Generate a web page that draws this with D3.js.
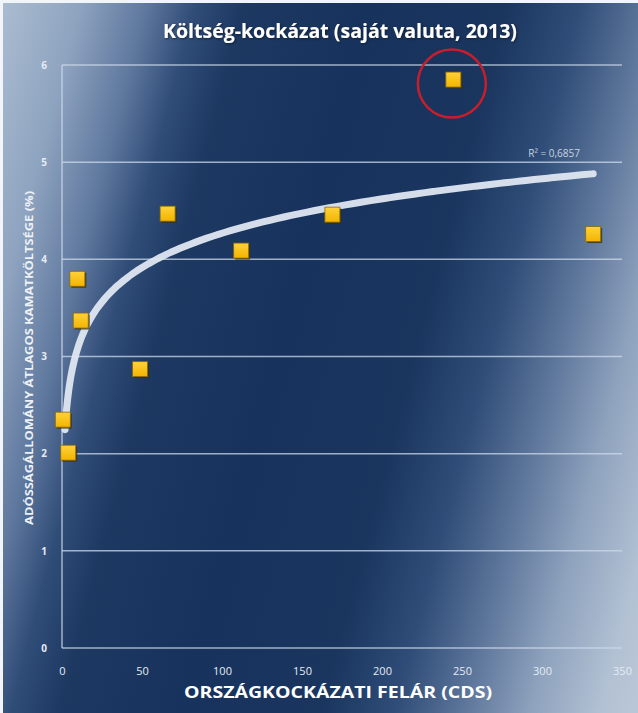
<!DOCTYPE html>
<html>
<head>
<meta charset="utf-8">
<script src="https://cdn.jsdelivr.net/npm/d3@7"></script>
<style>
  html, body { margin: 0; padding: 0; background: #fff; }
  svg { display: block; }
</style>
</head>
<body>
<div id="chart"></div>
<script>
// values
const cdsSpread = [0.5, 3.9, 9.6, 11.7, 48.8, 66, 112, 169, 244.6, 332];
const interestCost = [2.35, 2.01, 3.80, 3.37, 2.87, 4.47, 4.09, 4.46, 5.85, 4.26];
const xTicks = [0, 50, 100, 150, 200, 250, 300, 350];
const yTicks = [0, 1, 2, 3, 4, 5, 6];
// logarithmic trendline y = a*ln(x) + b, as drawn
const trendA = 0.51;
const trendB = 1.92;
const trendStart = 1.9;
const trendLabel = 'R² = 0,6857';
const highlighted = [8];

const W = 638, H = 713;
const svg = d3.select('#chart').append('svg')
  .attr('width', W)
  .attr('height', H);

const defs = svg.append('defs');
const bg = defs.append('linearGradient')
  .attr('id', 'bg')
  .attr('gradientUnits', 'userSpaceOnUse')
  .attr('x1', 0).attr('y1', 0).attr('x2', 766).attr('y2', 200);
[[0, '#abbdd1'], [0.1, '#8ea3bf'], [0.18, '#5f789e'], [0.24, '#304d78'], [0.3, '#1d3962'],
 [0.45, '#17335d'], [0.62, '#1a365f'], [0.71, '#2f4d78'], [0.79, '#5b7499'],
 [0.875, '#8ea2bd'], [0.96, '#b2c1d3'], [1, '#b9c6d6']]
  .forEach(s => bg.append('stop').attr('offset', s[0]).attr('stop-color', s[1]));

const mk = defs.append('linearGradient')
  .attr('id', 'mk')
  .attr('x1', 0).attr('y1', 0).attr('x2', 0).attr('y2', 1);
mk.append('stop').attr('offset', 0).attr('stop-color', '#ffd23a');
mk.append('stop').attr('offset', 1).attr('stop-color', '#f2b400');

const glow = defs.append('filter').attr('id', 'glow')
  .attr('x', '-10%').attr('y', '-30%').attr('width', '120%').attr('height', '160%');
glow.append('feDropShadow')
  .attr('dx', 1).attr('dy', 1).attr('stdDeviation', 1.2)
  .attr('flood-color', '#0a1a33').attr('flood-opacity', 0.8);

svg.append('rect')
  .attr('width', W).attr('height', H)
  .attr('fill', 'url(#bg)');

// light frame at top/left edge like the slide capture
svg.append('rect')
  .attr('x', 0).attr('y', 0).attr('width', W).attr('height', 3)
  .attr('fill', '#f2f5f9');
svg.append('rect')
  .attr('x', 0).attr('y', 0).attr('width', 3).attr('height', H)
  .attr('fill', '#f2f5f9');

const x = d3.scaleLinear().domain([0, 350]).range([62, 622]);
const y = d3.scaleLinear().domain([0, 6]).range([648, 65]);

const gridColor = 'rgba(205,218,235,0.75)';

// horizontal gridlines
svg.append('g')
  .selectAll('line')
  .data(yTicks.filter(d => d > 0))
  .join('line')
  .attr('x1', x(0)).attr('x2', x(350))
  .attr('y1', d => y(d)).attr('y2', d => y(d))
  .attr('stroke', gridColor)
  .attr('stroke-width', 1.5);

// axis lines
svg.append('line')
  .attr('x1', x(0)).attr('x2', x(0))
  .attr('y1', y(0)).attr('y2', y(6))
  .attr('stroke', gridColor).attr('stroke-width', 1.5);
svg.append('line')
  .attr('x1', x(0)).attr('x2', x(350))
  .attr('y1', y(0)).attr('y2', y(0))
  .attr('stroke', gridColor).attr('stroke-width', 1.5);

const tickFont = '"Open Sans", "DejaVu Sans", sans-serif';

const yAxis = d3.axisLeft(y).tickValues(yTicks).tickFormat(d3.format('d'))
  .tickSize(0).tickPadding(18);
const gy = svg.append('g')
  .attr('transform', `translate(${x(0)},0)`)
  .call(yAxis);
gy.select('.domain').remove();
gy.selectAll('text')
  .attr('text-anchor', 'middle')
  .attr('fill', '#e4ebf4')
  .attr('font-family', tickFont)
  .attr('font-weight', 'bold')
  .attr('font-size', 10);

const xAxis = d3.axisBottom(x).tickValues(xTicks).tickSize(0).tickPadding(19);
const gx = svg.append('g')
  .attr('transform', `translate(0,${y(0)})`)
  .call(xAxis);
gx.select('.domain').remove();
gx.selectAll('text')
  .attr('fill', '#e4ebf4')
  .attr('font-family', tickFont)
  .attr('font-size', 11);

// trendline
const xMax = d3.max(cdsSpread);
const trendPts = d3.range(0, 101).map(i => {
  const xv = trendStart + (xMax - trendStart) * Math.pow(i / 100, 2.2);
  return [xv, trendA * Math.log(xv) + trendB];
});
svg.append('path')
  .datum(trendPts)
  .attr('d', d3.line().x(d => x(d[0])).y(d => y(d[1])).curve(d3.curveMonotoneX))
  .attr('fill', 'none')
  .attr('stroke', '#dfe7f1')
  .attr('stroke-width', 7)
  .attr('stroke-linecap', 'round')
  .attr('opacity', 0.95);

svg.append('text')
  .attr('x', 580).attr('y', 157)
  .attr('text-anchor', 'end')
  .attr('fill', '#c9d4e2')
  .attr('font-family', tickFont)
  .attr('font-size', 10)
  .text(trendLabel);

// markers
const sz = 15;
const pts = cdsSpread.map((v, i) => ({ x: v, y: interestCost[i], i }));
svg.append('g')
  .selectAll('rect')
  .data(pts)
  .join('rect')
  .attr('x', d => x(d.x) - sz / 2 + 1.5)
  .attr('y', d => y(d.y) - sz / 2 + 1.5)
  .attr('width', sz).attr('height', sz)
  .attr('fill', '#3b2f0c')
  .attr('opacity', 0.75);
svg.append('g')
  .selectAll('rect')
  .data(pts)
  .join('rect')
  .attr('x', d => x(d.x) - sz / 2)
  .attr('y', d => y(d.y) - sz / 2)
  .attr('width', sz).attr('height', sz)
  .attr('fill', 'url(#mk)')
  .attr('stroke', '#8a6a08')
  .attr('stroke-width', 0.8);

// red ring around the highlighted point
svg.append('g')
  .selectAll('circle')
  .data(pts.filter(d => highlighted.includes(d.i)))
  .join('circle')
  .attr('cx', d => x(d.x) - 1.5)
  .attr('cy', d => y(d.y) + 4)
  .attr('r', 34)
  .attr('fill', 'none')
  .attr('stroke', '#c81e2b')
  .attr('stroke-width', 2.5);

// titles
svg.append('text')
  .attr('x', 340).attr('y', 38)
  .attr('text-anchor', 'middle')
  .attr('fill', '#ffffff')
  .attr('font-family', '"Open Sans", "DejaVu Sans", sans-serif')
  .attr('font-weight', 'bold')
  .attr('font-size', 19.5)
  .attr('filter', 'url(#glow)')
  .text('Költség-kockázat (saját valuta, 2013)');

svg.append('text')
  .attr('x', 338).attr('y', 698)
  .attr('text-anchor', 'middle')
  .attr('fill', '#ffffff')
  .attr('font-family', '"Open Sans", "DejaVu Sans", sans-serif')
  .attr('font-weight', 'bold')
  .attr('font-size', 16)
  .attr('textLength', 308)
  .attr('lengthAdjust', 'spacingAndGlyphs')
  .text('ORSZÁGKOCKÁZATI FELÁR (CDS)');

svg.append('text')
  .attr('transform', 'translate(33,358) rotate(-90)')
  .attr('text-anchor', 'middle')
  .attr('fill', '#eef2f8')
  .attr('font-family', '"Open Sans", "DejaVu Sans", sans-serif')
  .attr('font-weight', 'bold')
  .attr('font-size', 10)
  .attr('textLength', 334)
  .attr('lengthAdjust', 'spacingAndGlyphs')
  .text('ADÓSSÁGÁLLOMÁNY ÁTLAGOS  KAMATKÖLTSÉGE (%)');
</script>
</body>
</html>
